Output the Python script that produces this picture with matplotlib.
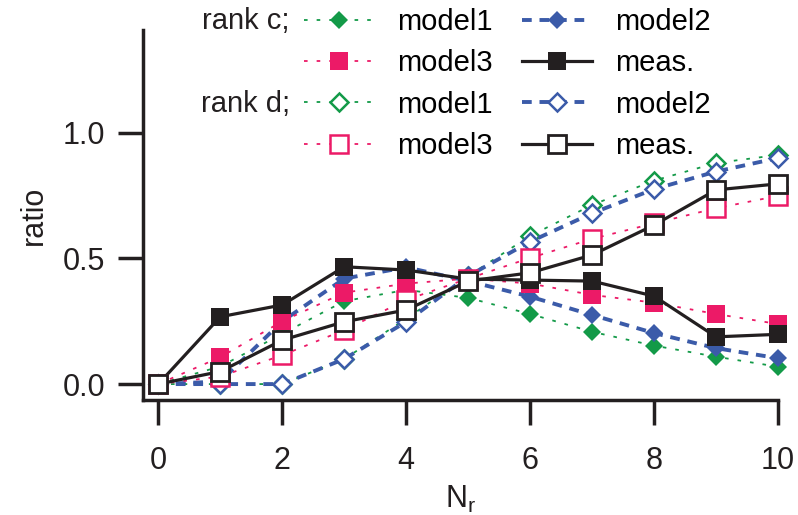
"""
Ratio vs N_r for rank c / rank d, three models and measurement
"""

import matplotlib.pyplot as plt

plt.rcParams['font.family'] = ['Liberation Sans', 'DejaVu Sans']
plt.rcParams['mathtext.fontset'] = 'custom'
plt.rcParams['mathtext.rm'] = 'Liberation Sans'
plt.rcParams['mathtext.it'] = 'Liberation Sans'

# data
nr = [0, 1, 2, 3, 4, 5, 6, 7, 8, 9, 10]

c_model1 = [0, 0.07, 0.20, 0.33, 0.375, 0.343, 0.279, 0.208, 0.153, 0.109, 0.069]
c_model2 = [0, 0.01, 0.25, 0.42, 0.465, 0.41, 0.348, 0.275, 0.203, 0.143, 0.103]
c_model3 = [0, 0.107, 0.25, 0.364, 0.40, 0.42, 0.40, 0.355, 0.324, 0.279, 0.239]
c_meas = [0, 0.268, 0.315, 0.467, 0.454, 0.418, 0.414, 0.41, 0.35, 0.188, 0.198]

d_model1 = [0, 0, 0, 0.10, 0.26, 0.43, 0.59, 0.713, 0.81, 0.88, 0.912]
d_model2 = [0, 0, 0, 0.10, 0.248, 0.43, 0.567, 0.68, 0.776, 0.846, 0.90]
d_model3 = [0, 0.03, 0.115, 0.215, 0.335, 0.42, 0.502, 0.578, 0.64, 0.70, 0.749]
d_meas = [0, 0.05, 0.175, 0.248, 0.295, 0.41, 0.443, 0.514, 0.633, 0.773, 0.797]

GREEN = '#139a48'
BLUE = '#3b5ba9'
PINK = '#ec1a67'
BLACK = '#231f20'

fig = plt.figure(figsize=(7.98, 5.15), dpi=100)
ax = fig.add_axes([0.179, 0.223, 0.796, 0.719])

dot = (0, (2, 5))
dash = (0, (2.5, 2))

styles = {
    'model1': dict(color=GREEN, ls=dot, lw=1.3, marker='D', ms=9),
    'model2': dict(color=BLUE, ls=dash, lw=2.8, marker='D', ms=9),
    'model3': dict(color=PINK, ls=dot, lw=1.3, marker='s', ms=12.5),
    'meas.': dict(color=BLACK, ls='-', lw=2.3, marker='s', ms=12.5),
}

handles = {}
for rank, series in [('c', [c_model1, c_model2, c_model3, c_meas]),
                     ('d', [d_model1, d_model2, d_model3, d_meas])]:
    for name, vals in zip(styles, series):
        st = dict(styles[name])
        col = st['color']
        if rank == 'c':
            st.update(mfc=col, mec=col, mew=0)
        else:
            st.update(mfc='white', mec=col, mew=1.8 if name != 'meas.' else 2.0)
        line, = ax.plot(nr, vals, clip_on=False, **st)
        handles[(rank, name)] = line

order = [('c', 'model1'), ('c', 'model3'), ('d', 'model1'), ('d', 'model3'),
         ('c', 'model2'), ('c', 'meas.'), ('d', 'model2'), ('d', 'meas.')]
leg = ax.legend([handles[k] for k in order], [k[1] for k in order], ncol=2,
                loc='upper left', bbox_to_anchor=(304 / 798, 0.985),
                bbox_transform=fig.transFigure, frameon=False, fontsize=21,
                handlelength=2.4, handletextpad=0.8, columnspacing=1.0,
                labelspacing=0.46, borderpad=0, borderaxespad=0)

fig.text(290 / 798, 1 - 21 / 515, 'rank c;', ha='right', va='center', fontsize=21, color=BLACK)
fig.text(290 / 798, 1 - 104 / 515, 'rank d;', ha='right', va='center', fontsize=21, color=BLACK)

ax.set_xlim(-0.25, 10)
ax.set_ylim(-0.064, 1.41)
ax.set_xticks([0, 2, 4, 6, 8, 10])
ax.set_yticks([0.0, 0.5, 1.0])
ax.set_yticklabels(['0.0', '0.5', '1.0'])

for s in ['top', 'right']:
    ax.spines[s].set_visible(False)
for s in ['left', 'bottom']:
    ax.spines[s].set_linewidth(2.5)
    ax.spines[s].set_color(BLACK)

ax.tick_params(direction='out', length=18, width=2.5, color=BLACK,
               labelsize=22, labelcolor=BLACK)
ax.tick_params(axis='y', pad=9)
ax.tick_params(axis='x', pad=15)

ax.set_ylabel('ratio', fontsize=22, color=BLACK, labelpad=10)
ax.set_xlabel(r'$\mathregular{N_r}$', fontsize=22, color=BLACK, labelpad=6)

plt.savefig('out.png', dpi=100)
